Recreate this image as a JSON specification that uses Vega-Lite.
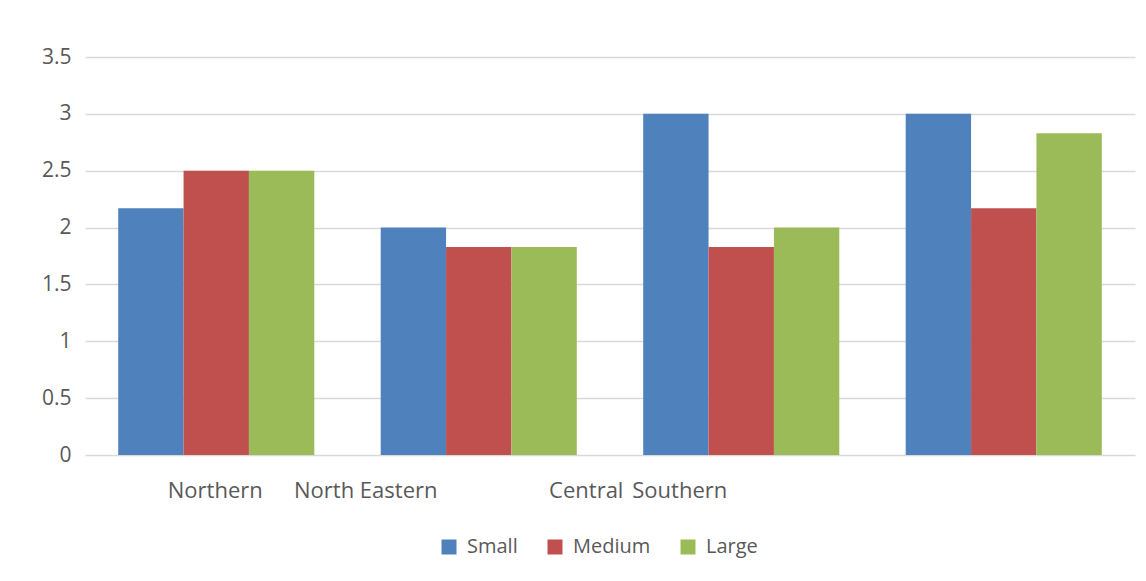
{
  "$schema": "https://vega.github.io/schema/vega-lite/v6.json",
  "autosize": {"type": "none"},
  "width": 1050,
  "height": 398,
  "padding": {"left": 85, "top": 57, "right": 11, "bottom": 126},
  "background": "white",
  "config": {
    "view": {"stroke": null},
    "font": "Open Sans"
  },
  "data": {
    "values": [
      {"region": "Northern", "size": "Small", "value": 2.17},
      {"region": "Northern", "size": "Medium", "value": 2.5},
      {"region": "Northern", "size": "Large", "value": 2.5},
      {"region": "North Eastern", "size": "Small", "value": 2.0},
      {"region": "North Eastern", "size": "Medium", "value": 1.83},
      {"region": "North Eastern", "size": "Large", "value": 1.83},
      {"region": "Central", "size": "Small", "value": 3.0},
      {"region": "Central", "size": "Medium", "value": 1.83},
      {"region": "Central", "size": "Large", "value": 2.0},
      {"region": "Southern", "size": "Small", "value": 3.0},
      {"region": "Southern", "size": "Medium", "value": 2.17},
      {"region": "Southern", "size": "Large", "value": 2.83}
    ]
  },
  "mark": {"type": "bar"},
  "encoding": {
    "x": {
      "field": "region",
      "type": "nominal",
      "sort": ["Northern", "North Eastern", "Central", "Southern"],
      "scale": {"paddingInner": 0.253, "paddingOuter": 0.1265},
      "axis": {
        "title": null,
        "labelAngle": 0,
        "domain": false,
        "ticks": false,
        "labelPadding": 25,
        "labelFontSize": 22,
        "labelColor": "#595959",
        "labelOffset": {
          "condition": [
            {"test": "datum.value == 'North Eastern'", "value": -113},
            {"test": "datum.value == 'Central'", "value": -155},
            {"test": "datum.value == 'Southern'", "value": -324}
          ],
          "value": -1
        }
      }
    },
    "xOffset": {
      "field": "size",
      "type": "nominal",
      "sort": ["Small", "Medium", "Large"]
    },
    "y": {
      "field": "value",
      "type": "quantitative",
      "scale": {"domain": [0, 3.5]},
      "axis": {
        "title": null,
        "values": [0, 0.5, 1, 1.5, 2, 2.5, 3, 3.5],
        "format": "~g",
        "domain": false,
        "ticks": false,
        "labelPadding": 14,
        "labelFontSize": 21,
        "labelColor": "#595959",
        "gridColor": "#d9d9d9",
        "gridWidth": 1.5,
        "gridOpacity": 1
      }
    },
    "color": {
      "field": "size",
      "type": "nominal",
      "sort": ["Small", "Medium", "Large"],
      "scale": {"domain": ["Small", "Medium", "Large"], "range": ["#4f81bd", "#c0504d", "#9bbb59"]},
      "legend": {
        "title": null,
        "orient": "none",
        "legendX": 354,
        "legendY": 480,
        "direction": "horizontal",
        "symbolType": "square",
        "symbolSize": 225,
        "symbolStrokeWidth": 0,
        "symbolOpacity": 1,
        "labelFontSize": 20,
        "labelColor": "#595959",
        "labelOffset": 8,
        "columnPadding": 27
      }
    }
  }
}
